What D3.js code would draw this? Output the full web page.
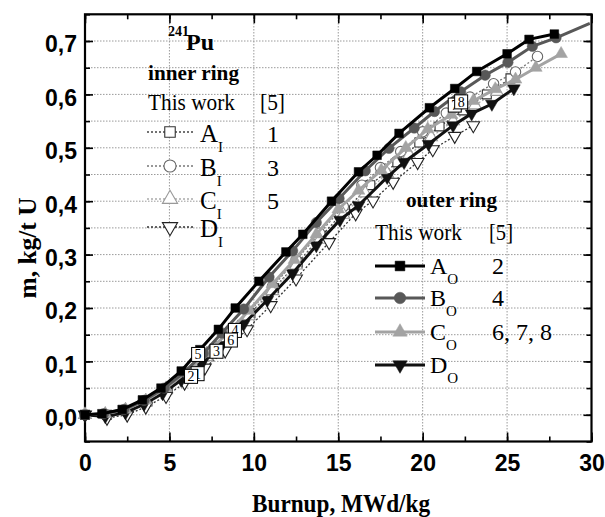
<!DOCTYPE html>
<html><head><meta charset="utf-8">
<script src="https://cdn.jsdelivr.net/npm/d3@7"></script>
<style>
html,body{margin:0;padding:0;background:#fff;}
svg{display:block;}
.serif{font-family:"Liberation Serif","Times New Roman",serif;}
</style></head>
<body>
<svg id="chart" width="605" height="517"></svg>
<script>
// ---------------- DATA ----------------
const xTickValues = [0, 5, 10, 15, 20, 25, 30];
const yTickValues = [0, 0.1, 0.2, 0.3, 0.4, 0.5, 0.6, 0.7];

// outer ring (this work)
const burnupAO = [0,1,2.2,3.4,4.5,5.7,6.8,7.9,8.9,10.3,11.9,12.9,14.6,16.2,17.3,18.6,20.4,21.9,23.2,25.0,26.3,27.8];
const massAO   = [0,0.002,0.01,0.028,0.05,0.082,0.122,0.16,0.2,0.25,0.305,0.338,0.4,0.455,0.486,0.527,0.575,0.611,0.643,0.676,0.703,0.713];
const burnupBO = [0,1.1,2.3,3.5,4.7,5.9,7.0,8.1,9.4,10.9,12.3,13.7,15.05,16.6,18.0,19.5,20.7,22.25,23.7,25.05,26.5,27.9];
const massBO   = [0,0.002,0.01,0.027,0.05,0.08,0.115,0.153,0.198,0.258,0.307,0.36,0.405,0.457,0.499,0.537,0.568,0.605,0.636,0.66,0.69,0.706];
const burnupBOtail = [27.9, 29.9];
const massBOtail   = [0.706, 0.733];
const burnupCO = [0,1.2,2.4,3.6,4.8,6.0,7.2,8.4,9.7,11.1,12.4,13.7,15.0,16.2,17.55,19.0,20.3,21.7,23.0,24.3,25.5,26.7,28.2];
const massCO   = [0,0.002,0.01,0.027,0.05,0.08,0.115,0.152,0.195,0.245,0.29,0.338,0.385,0.42,0.458,0.5,0.535,0.562,0.588,0.61,0.628,0.65,0.676];
const burnupDO = [0,1.2,2.4,3.5,4.6,5.7,6.9,8.1,9.4,10.8,12.3,13.7,15.1,16.2,17.9,18.9,20.35,21.8,22.9,24.1,25.4];
const massDO   = [0,-0.003,0.004,0.02,0.04,0.065,0.095,0.13,0.17,0.215,0.265,0.317,0.365,0.392,0.445,0.473,0.507,0.542,0.564,0.582,0.611];

// inner ring (this work)
const burnupAI = [0,1.3,2.5,3.7,4.9,6.1,7.3,8.5,9.8,11.2,12.6,14.0,15.4,16.9,18.5,19.8,21.0,22.4,23.8,25.2];
const massAI   = [0,0.0,0.008,0.025,0.048,0.078,0.11,0.147,0.19,0.237,0.285,0.335,0.383,0.43,0.473,0.51,0.54,0.57,0.6,0.63];
const burnupBI = [0,1.2,2.4,3.6,4.8,6.0,7.2,8.4,9.7,11.1,12.5,13.9,15.3,16.4,17.5,18.7,20.0,21.4,22.8,24.2,25.5,26.8];
const massBI   = [0,0.001,0.009,0.026,0.049,0.079,0.113,0.15,0.192,0.24,0.29,0.34,0.39,0.43,0.463,0.493,0.53,0.565,0.595,0.62,0.642,0.671];
const burnupCI = [0,1.2,2.4,3.6,4.8,6.0,7.2,8.4,9.7,11.1,12.5,13.9,15.3,16.6,17.9,19.2,20.5,21.8,23.1,24.4];
const massCI   = [0,0.0,0.008,0.025,0.047,0.076,0.108,0.144,0.185,0.232,0.28,0.328,0.375,0.415,0.452,0.487,0.52,0.55,0.58,0.605];
const burnupDI = [0,1.3,2.5,3.6,4.8,5.9,7.1,8.3,9.6,11.0,12.5,14.46,16.03,17.06,18.25,19.7,20.6,21.9,23.0];
const massDI   = [0,-0.006,0.0,0.015,0.035,0.06,0.088,0.12,0.16,0.205,0.255,0.323,0.377,0.401,0.436,0.473,0.497,0.522,0.542];

// reference [5] data points (boxed numbers)
const refLabels = ["1","2","3","4","5","6","7","8"];
const refBurnup = [6.67,6.28,7.79,8.88,6.70,8.64,21.9,22.28];
const refMass   = [0.077,0.072,0.119,0.158,0.113,0.140,0.580,0.586];

// legend texts
const innerNames = ["A","B","C","D"];
const innerRefs  = ["1","3","5",""];
const outerNames = ["A","B","C","D"];
const outerRefs  = ["2","4","6, 7, 8",""];

// ---------------- CHART ----------------
const svg = d3.select("#chart");
const x = d3.scaleLinear().domain([0, 30]).range([85, 591.5]);
const y = d3.scaleLinear().domain([-0.05, 0.75]).range([441.5, 14.3]);
const fmt = v => d3.format(".1f")(v).replace(".", ",");
const sansB = "'Liberation Sans Narrow','Liberation Sans',Arial,sans-serif";
const serif = "'Liberation Serif','Times New Roman',serif";

// grid
const grid = svg.append("g");
d3.range(0, 0.7001, 0.05).forEach(v => {
  grid.append("line").attr("x1", x(0)).attr("x2", x(30)).attr("y1", y(v)).attr("y2", y(v))
    .attr("stroke", "#9a9a9a").attr("stroke-width", 1).attr("stroke-dasharray", "1.5,1.5");
});
[5,10,15,20,25].forEach(v => {
  grid.append("line").attr("x1", x(v)).attr("x2", x(v)).attr("y1", y(-0.05)).attr("y2", y(0.75))
    .attr("stroke", "#9a9a9a").attr("stroke-width", 1).attr("stroke-dasharray", "1.5,1.5");
});

// axes
const xMinor = d3.range(0, 30.01, 2.5);
const yMinor = d3.range(-0.05, 0.7501, 0.05);
function styleAxis(g){ g.select(".domain").remove(); g.selectAll(".tick line").attr("stroke","#000").attr("stroke-width",1.6); }

svg.append("g").attr("transform", `translate(0,${y(-0.05)})`)
  .call(d3.axisBottom(x).tickValues(xMinor).tickSize(-5).tickFormat("")).call(styleAxis);
svg.append("g").attr("transform", `translate(0,${y(0.75)})`)
  .call(d3.axisTop(x).tickValues(xMinor).tickSize(-5).tickFormat("")).call(styleAxis);
svg.append("g").attr("transform", `translate(0,${y(-0.05)})`)
  .call(d3.axisBottom(x).tickValues(xTickValues).tickSize(-9).tickPadding(13).tickFormat(d3.format("d")))
  .call(styleAxis)
  .call(g => g.selectAll("text").attr("font-family", sansB).attr("font-weight","bold").attr("font-size", 23).attr("fill","#000"));
svg.append("g").attr("transform", `translate(0,${y(0.75)})`)
  .call(d3.axisTop(x).tickValues(xTickValues).tickSize(-9).tickFormat("")).call(styleAxis);

svg.append("g").attr("transform", `translate(${x(0)},0)`)
  .call(d3.axisLeft(y).tickValues(yMinor).tickSize(-5).tickFormat("")).call(styleAxis);
svg.append("g").attr("transform", `translate(${x(30)},0)`)
  .call(d3.axisRight(y).tickValues(yMinor).tickSize(-5).tickFormat("")).call(styleAxis);
svg.append("g").attr("transform", `translate(${x(0)},0)`)
  .call(d3.axisLeft(y).tickValues(yTickValues).tickSize(-8).tickPadding(8).tickFormat(fmt))
  .call(styleAxis)
  .call(g => g.selectAll("text").attr("font-family", sansB).attr("font-weight","bold").attr("font-size", 23).attr("dy","0.47em").attr("fill","#000"));
svg.append("g").attr("transform", `translate(${x(30)},0)`)
  .call(d3.axisRight(y).tickValues(yTickValues).tickSize(-8).tickFormat("")).call(styleAxis);

// frame
svg.append("rect").attr("x", x(0)).attr("y", y(0.75)).attr("width", x(30)-x(0)).attr("height", y(-0.05)-y(0.75))
  .attr("fill","none").attr("stroke","#000").attr("stroke-width",2.2);

// axis titles
svg.append("text").attr("x", 341).attr("y", 512).attr("text-anchor","middle")
  .attr("font-family", serif).attr("font-weight","bold").attr("font-size", 26)
  .attr("textLength", 178).attr("lengthAdjust","spacingAndGlyphs").text("Burnup, MWd/kg");
svg.append("text").attr("transform", "translate(36,248) rotate(-90)").attr("text-anchor","middle")
  .attr("font-family", serif).attr("font-weight","bold").attr("font-size", 26)
  .attr("textLength", 101).attr("lengthAdjust","spacingAndGlyphs").text("m, kg/t U");

// series
const zip = (xs, ys) => xs.map((v,i) => [v, ys[i]]);
const line = d3.line().x(d => x(d[0])).y(d => y(d[1]));

const sym = {
  square: d3.symbol().type(d3.symbolSquare),
  circle: d3.symbol().type(d3.symbolCircle),
  tri: d3.symbol().type(d3.symbolTriangle)
};
function drawMarker(g, kind, cx, cy, size, fill, stroke, sw){
  let p;
  if (kind === "square") p = g.append("path").attr("d", sym.square.size(size)());
  else if (kind === "circle") p = g.append("path").attr("d", sym.circle.size(size)());
  else p = g.append("path").attr("d", sym.tri.size(size)());
  let t = `translate(${cx},${cy})`;
  if (kind === "down") t += " rotate(180)";
  p.attr("transform", t).attr("fill", fill).attr("stroke", stroke).attr("stroke-width", sw);
}

const innerSeries = [
  {xs: burnupAI, ys: massAI, kind: "square", line: "#444", mk: "#333", size: 80},
  {xs: burnupBI, ys: massBI, kind: "circle", line: "#777", mk: "#666", size: 85},
  {xs: burnupCI, ys: massCI, kind: "up",     line: "#aaa", mk: "#999", size: 70},
  {xs: burnupDI, ys: massDI, kind: "down",   line: "#333", mk: "#222", size: 70}
];
const outerSeries = [
  {xs: burnupDO, ys: massDO, kind: "down",   color: "#111", size: 70},
  {xs: burnupCO, ys: massCO, kind: "up",     color: "#a3a3a3", size: 70},
  {xs: burnupBO, ys: massBO, kind: "circle", color: "#585858", size: 85},
  {xs: burnupAO, ys: massAO, kind: "square", color: "#000", size: 75}
];

const plot = svg.append("g");
innerSeries.forEach(s => {
  const pts = zip(s.xs, s.ys);
  plot.append("path").attr("d", line(pts)).attr("fill","none").attr("stroke", s.line)
    .attr("stroke-width", 1.3).attr("stroke-dasharray","2,2");
});
innerSeries.forEach(s => {
  zip(s.xs, s.ys).forEach(d => drawMarker(plot, s.kind, x(d[0]), y(d[1]), s.size, "#fff", s.mk, 1.1));
});
// B_O tail (line only)
plot.append("path").attr("d", line(zip(burnupBOtail, massBOtail))).attr("fill","none")
  .attr("stroke", "#585858").attr("stroke-width", 3);
outerSeries.forEach(s => {
  const pts = zip(s.xs, s.ys);
  plot.append("path").attr("d", line(pts)).attr("fill","none").attr("stroke", s.color).attr("stroke-width", 3);
  pts.forEach(d => drawMarker(plot, s.kind, x(d[0]), y(d[1]), s.size, s.color, s.color, 0.5));
});

// boxed reference numbers
refLabels.forEach((lab, i) => {
  const cx = x(refBurnup[i]), cy = y(refMass[i]);
  plot.append("rect").attr("x", cx-6.5).attr("y", cy-7).attr("width", 13).attr("height", 14)
    .attr("fill","#fff").attr("stroke","#000").attr("stroke-width",1);
  plot.append("text").attr("x", cx).attr("y", cy+5).attr("text-anchor","middle")
    .attr("font-family", serif).attr("font-size", 14).text(lab);
});

// ---------------- LEGENDS ----------------
const lg = svg.append("g").attr("font-family", serif).attr("fill", "#000");
// title 241Pu
lg.append("text").attr("x", 168).attr("y", 36).attr("font-size", 14).attr("font-weight","bold").text("241");
lg.append("text").attr("x", 186).attr("y", 50).attr("font-size", 24).attr("font-weight","bold").text("Pu");
lg.append("text").attr("x", 148).attr("y", 80).attr("font-size", 22).attr("font-weight","bold")
  .attr("textLength", 91).attr("lengthAdjust","spacingAndGlyphs").text("inner ring");
lg.append("text").attr("x", 148).attr("y", 110).attr("font-size", 24)
  .attr("textLength", 87).attr("lengthAdjust","spacingAndGlyphs").text("This work");
lg.append("text").attr("x", 260).attr("y", 110).attr("font-size", 24)
  .attr("textLength", 25).attr("lengthAdjust","spacingAndGlyphs").text("[5]");

const innerRowsY = [132, 166, 199, 227];
innerSeries.forEach((s, i) => {
  const ry = innerRowsY[i];
  lg.append("line").attr("x1", 147).attr("x2", 193).attr("y1", ry).attr("y2", ry)
    .attr("stroke", s.line).attr("stroke-width", 1.3).attr("stroke-dasharray","2,2");
  drawMarker(lg, s.kind, 170, ry, s.size + 30, "#fff", s.mk, 1.1);
  const t = lg.append("text").attr("x", 200).attr("y", ry + 10).attr("font-size", 25);
  t.append("tspan").text(innerNames[i]);
  t.append("tspan").attr("dy", 10).attr("font-size", 15).text("I");
  lg.append("text").attr("x", 273).attr("y", ry + 10).attr("font-size", 24).attr("text-anchor","middle").text(innerRefs[i]);
});

lg.append("text").attr("x", 406).attr("y", 207).attr("font-size", 22).attr("font-weight","bold")
  .attr("textLength", 91).attr("lengthAdjust","spacingAndGlyphs").text("outer ring");
lg.append("text").attr("x", 375).attr("y", 240).attr("font-size", 24)
  .attr("textLength", 87).attr("lengthAdjust","spacingAndGlyphs").text("This work");
lg.append("text").attr("x", 489).attr("y", 240).attr("font-size", 24)
  .attr("textLength", 24).attr("lengthAdjust","spacingAndGlyphs").text("[5]");

const outerRowsY = [266, 298, 332, 365];
const outerLegendOrder = [3, 2, 1, 0]; // A, B, C, D in outerSeries
outerLegendOrder.forEach((si, i) => {
  const s = outerSeries[si];
  const ry = outerRowsY[i];
  lg.append("line").attr("x1", 375).attr("x2", 425).attr("y1", ry).attr("y2", ry)
    .attr("stroke", s.color).attr("stroke-width", 3);
  drawMarker(lg, s.kind, 400, ry, s.size + 20, s.color, s.color, 0.5);
  const t = lg.append("text").attr("x", 430).attr("y", ry + 8).attr("font-size", 24);
  t.append("tspan").text(outerNames[i]);
  t.append("tspan").attr("dy", 10).attr("font-size", 15).text("O");
  lg.append("text").attr("x", 492).attr("y", ry + 8).attr("font-size", 24).text(outerRefs[i]);
});
</script>
</body></html>
